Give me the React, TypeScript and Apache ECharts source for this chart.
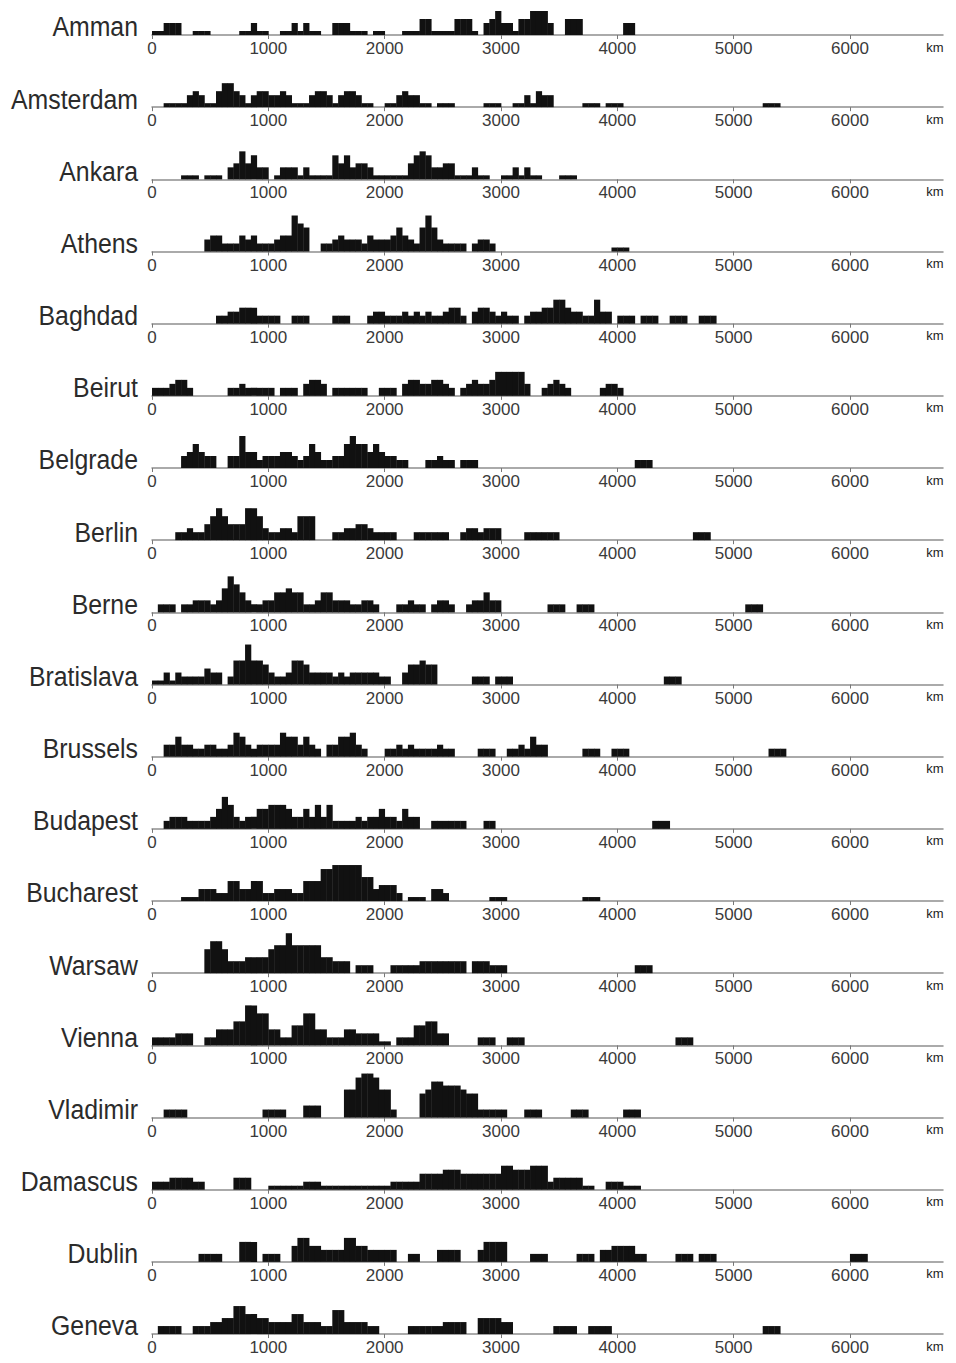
import React, { useEffect, useRef } from "react";
import * as echarts from "echarts";

const cities = [
  "Amman", "Amsterdam", "Ankara", "Athens", "Baghdad", "Beirut", "Belgrade", "Berlin", "Berne",
  "Bratislava", "Brussels", "Budapest", "Bucharest", "Warsaw", "Vienna", "Vladimir", "Damascus",
  "Dublin", "Geneva",
];

const BIN_KM = 50;
const xTicks = [0, 1000, 2000, 3000, 4000, 5000, 6000];

const amman = [1,1,3,3,3,0,0,1,1,1, 0,0,0,0,0,1,1,3,1,1, 0,0,1,1,3,1,3,1,1,0, 0,3,3,3,1,1,1,0,1,1, 0,0,0,1,1,1,4,4,1,1, 1,1,4,4,4,1,0,3,4,6, 3,3,1,4,4,6,6,6,3,0, 0,4,4,4,0,0,0,0,0,0, 0,3,3];
const amsterdam = [0,0,1,1,1,1,3,4,3,1, 1,4,6,6,4,3,1,3,4,4, 3,3,4,3,1,1,1,3,4,4, 3,1,3,4,4,3,1,1,0,0, 1,1,3,4,3,3,1,1,0,1, 1,1,0,0,0,0,0,1,1,1, 0,0,1,1,3,1,4,3,3,0, 0,0,0,0,1,1,1,0,1,1, 1,0,0,0,0,0,0,0,0,0, 0,0,0,0,0,0,0,0,0,0, 0,0,0,0,0,1,1,1];
const ankara = [0,0,0,0,0,1,1,1,0,1, 1,1,0,3,4,7,4,6,3,3, 0,1,3,3,3,1,3,1,1,1, 1,6,4,6,3,4,4,3,1,1, 1,1,1,1,4,6,7,6,3,3, 4,4,1,1,1,3,1,1,0,0, 1,1,3,1,3,1,1,0,0,0, 1,1,1];
const athens = [0,0,0,0,0,0,0,0,0,3, 4,4,2,2,2,4,3,4,2,2, 2,3,4,4,9,7,6,0,0,2, 2,3,4,3,3,3,2,4,3,3, 3,4,6,4,3,2,6,9,6,3, 2,2,2,2,0,2,3,3,2,0, 0,0,0,0,0,0,0,0,0,0, 0,0,0,0,0,0,0,0,0,1, 1,1];
const baghdad = [0,0,0,0,0,0,0,0,0,0, 0,2,2,3,3,4,4,4,2,2, 2,2,0,0,2,2,2,0,0,0, 0,2,2,2,0,0,0,2,3,3, 2,2,2,3,2,3,2,3,2,2, 3,4,4,2,0,3,4,4,3,2, 3,2,2,0,2,3,3,4,4,6, 6,4,3,3,2,2,6,3,3,0, 2,2,2,0,2,2,2,0,0,2, 2,2,0,0,2,2,2];
const beirut = [2,2,2,3,4,4,2,0,0,0, 0,0,0,2,2,3,2,2,2,2, 2,0,2,2,2,0,3,4,4,3, 0,2,2,2,2,2,2,0,0,2, 2,2,0,3,4,4,3,3,4,4, 3,2,0,2,3,4,3,3,4,6, 6,6,6,6,3,0,0,2,3,4, 3,2,0,0,0,0,0,2,3,3, 2];
const belgrade = [0,0,0,0,0,3,4,6,4,3, 3,0,0,3,3,8,4,4,2,3, 3,3,4,4,3,2,3,6,4,2, 2,3,3,6,8,6,6,4,6,4, 3,3,2,2,0,0,0,2,2,3, 2,2,0,2,2,2,0,0,0,0, 0,0,0,0,0,0,0,0,0,0, 0,0,0,0,0,0,0,0,0,0, 0,0,0,2,2,2];
const berlin = [0,0,0,0,2,2,3,2,2,4, 6,8,6,4,4,4,8,8,6,3, 2,2,3,3,2,6,6,6,0,0, 0,2,2,3,3,4,4,3,2,2, 2,2,0,0,0,2,2,2,2,2, 2,0,0,2,3,3,2,3,3,3, 0,0,0,0,2,2,2,2,2,2, 0,0,0,0,0,0,0,0,0,0, 0,0,0,0,0,0,0,0,0,0, 0,0,0,2,2,2];
const berne = [0,2,2,2,0,2,2,3,3,3, 2,3,6,9,7,5,3,2,2,3, 3,5,5,6,5,5,2,2,3,5, 5,3,3,3,2,2,3,3,2,0, 0,0,2,2,3,2,2,0,2,3, 3,2,0,0,2,3,3,5,3,3, 0,0,0,0,0,0,0,0,2,2, 2,0,0,2,2,2,0,0,0,0, 0,0,0,0,0,0,0,0,0,0, 0,0,0,0,0,0,0,0,0,0, 0,0,2,2,2];
const bratislava = [1,1,3,1,3,2,2,2,2,4, 3,3,0,2,6,6,10,6,6,5, 3,2,2,3,6,6,5,3,3,3, 3,2,3,2,3,3,3,3,3,2, 2,0,0,3,5,5,6,5,5,0, 0,0,0,0,0,2,2,2,0,2, 2,2,0,0,0,0,0,0,0,0, 0,0,0,0,0,0,0,0,0,0, 0,0,0,0,0,0,0,0,2,2, 2];
const brussels = [0,0,3,3,5,3,3,2,2,3, 3,2,2,3,6,5,3,2,3,3, 3,3,6,5,5,3,5,3,2,0, 3,3,5,5,6,3,2,0,0,0, 2,2,3,2,3,2,2,2,2,3, 2,2,0,0,0,0,2,2,2,0, 0,2,2,3,2,5,3,3,0,0, 0,0,0,0,2,2,2,0,0,2, 2,2,0,0,0,0,0,0,0,0, 0,0,0,0,0,0,0,0,0,0, 0,0,0,0,0,0,2,2,2];
const budapest = [0,0,2,3,3,3,2,2,2,2, 3,5,8,6,3,2,3,3,5,5, 6,6,6,5,3,3,5,3,6,3, 6,2,2,2,2,3,2,3,3,5, 3,3,2,5,3,3,0,0,2,2, 2,2,2,2,0,0,0,2,2,0, 0,0,0,0,0,0,0,0,0,0, 0,0,0,0,0,0,0,0,0,0, 0,0,0,0,0,0,2,2,2];
const bucharest = [0,0,0,0,0,1,1,1,3,3, 3,2,2,5,5,3,3,5,5,2, 2,3,3,3,2,2,5,5,5,8, 8,9,9,9,9,9,6,6,3,4, 4,4,2,0,1,1,1,0,3,3, 2,0,0,0,0,0,0,0,1,1, 1,0,0,0,0,0,0,0,0,0, 0,0,0,0,1,1,1];
const warsaw = [0,0,0,0,0,0,0,0,0,6, 8,8,6,3,3,3,4,4,4,4, 6,7,7,10,7,7,7,7,7,4, 4,3,3,3,0,2,2,2,0,0, 0,2,2,2,2,2,3,3,3,3, 3,3,3,3,0,3,3,3,2,2, 2,0,0,0,0,0,0,0,0,0, 0,0,0,0,0,0,0,0,0,0, 0,0,0,2,2,2];
const vienna = [2,2,2,2,3,3,3,0,0,2, 2,4,4,4,6,6,10,10,8,8, 4,4,2,2,5,5,8,8,4,4, 2,2,2,4,4,3,3,3,3,1, 1,0,2,2,2,5,5,6,6,3, 3,0,0,0,0,0,2,2,2,0, 0,2,2,2,0,0,0,0,0,0, 0,0,0,0,0,0,0,0,0,0, 0,0,0,0,0,0,0,0,0,0, 2,2,2];
const vladimir = [0,0,2,2,2,2,0,0,0,0, 0,0,0,0,0,0,0,0,0,2, 2,2,2,0,0,0,3,3,3,0, 0,0,0,7,7,10,11,11,10,7, 7,2,0,0,0,0,6,7,9,9, 8,8,8,7,6,6,2,2,2,2, 2,0,0,0,2,2,2,0,0,0, 0,0,2,2,2,0,0,0,0,0, 0,2,2,2];
const damascus = [2,2,2,3,3,3,3,2,2,0, 0,0,0,0,3,3,3,0,0,0, 1,1,1,1,1,1,2,2,2,1, 1,1,1,1,1,1,1,1,1,1, 1,2,2,2,2,2,4,4,4,4, 5,5,5,4,4,4,4,4,4,4, 6,6,5,5,5,6,6,6,2,3, 3,3,3,3,1,1,0,0,2,2, 2,1,1,1];
const dublin = [0,0,0,0,0,0,0,0,2,2, 2,2,0,0,0,5,5,5,0,2, 2,2,0,0,4,6,6,4,4,3, 3,3,3,6,6,4,4,3,3,3, 3,3,0,0,2,2,0,0,0,3, 3,3,3,0,0,0,3,5,5,5, 5,0,0,0,0,2,2,2,0,0, 0,0,0,2,2,2,0,3,3,4, 4,4,4,2,2,0,0,0,0,0, 2,2,2,0,2,2,2,0,0,0, 0,0,0,0,0,0,0,0,0,0, 0,0,0,0,0,0,0,0,0,0, 2,2,2];
const geneva = [0,2,2,2,2,0,0,2,2,2, 3,3,4,4,7,7,5,5,4,4, 3,3,3,3,5,5,3,3,3,2, 2,6,6,3,3,3,3,2,2,0, 0,0,0,0,2,2,2,2,2,2, 3,3,3,3,0,0,4,4,4,4, 3,3,0,0,0,0,0,0,0,2, 2,2,2,0,0,2,2,2,2,0, 0,0,0,0,0,0,0,0,0,0, 0,0,0,0,0,0,0,0,0,0, 0,0,0,0,0,2,2,2];

const histograms = [
  amman, amsterdam, ankara, athens, baghdad, beirut, belgrade, berlin, berne,
  bratislava, brussels, budapest, bucharest, warsaw, vienna, vladimir, damascus, dublin, geneva,
];

const W = 956;
const H = 1363;
const ROW0 = 35;
const ROW_STEP = 72.17;
const GRID_LEFT = 152;
const GRID_WIDTH = 791;
const GRID_H = 52;
const PX_PER_UNIT = 4;
const X_MAX = 6800;
const NUM_FONT = "'Liberation Sans', Arial, sans-serif";

export default function App() {
  const ref = useRef<HTMLDivElement>(null);

  useEffect(() => {
    if (!ref.current) return;
    const chart = echarts.init(ref.current, undefined, { renderer: "svg" });

    const grids: any[] = [];
    const xAxes: any[] = [];
    const yAxes: any[] = [];
    const series: any[] = [];
    const graphics: any[] = [];

    cities.forEach((city, i) => {
      const base = ROW0 + ROW_STEP * i;
      const top = Math.max(0, base - GRID_H);
      const height = base - top;
      grids.push({ left: GRID_LEFT, width: GRID_WIDTH, top, height });
      xAxes.push({
        type: "value",
        gridIndex: i,
        min: 0,
        max: X_MAX,
        interval: 1000,
        axisLine: { show: true, onZero: false, lineStyle: { color: "#8e8e8e", width: 1.5 } },
        axisTick: { show: true, customValues: xTicks, length: 4, lineStyle: { color: "#777", width: 1 } },
        axisLabel: {
          customValues: xTicks,
          formatter: (v: number) => String(v),
          fontSize: 17,
          fontFamily: NUM_FONT,
          color: "#3a3a3a",
          margin: 5,
        },
        splitLine: { show: false },
      });
      yAxes.push({ type: "value", gridIndex: i, min: 0, max: height / PX_PER_UNIT, show: false });
      const data = histograms[i]
        .map((h, k) => [k * BIN_KM, h])
        .filter((d) => d[1] > 0);
      series.push({
        type: "custom",
        xAxisIndex: i,
        yAxisIndex: i,
        data,
        z: 5,
        clip: false,
        renderItem: (_params: any, api: any) => {
          const x = api.value(0);
          const h = api.value(1);
          const a = api.coord([x, 0]);
          const b = api.coord([x + BIN_KM, h]);
          return {
            type: "rect",
            shape: { x: a[0], y: b[1], width: b[0] - a[0] + 0.4, height: a[1] - b[1] },
            style: { fill: "#111" },
          };
        },
      });
      graphics.push({
        type: "text",
        x: 138,
        y: base - 8,
        scaleX: 0.92,
        style: {
          text: city,
          font: "27px 'Liberation Sans', Arial, sans-serif",
          fill: "#2b2b2b",
          textAlign: "right",
          textVerticalAlign: "middle",
        },
      });
      graphics.push({
        type: "text",
        x: 935,
        y: base + 12,
        style: {
          text: "km",
          font: "13px 'Liberation Sans', Arial, sans-serif",
          fill: "#222222",
          textAlign: "center",
          textVerticalAlign: "middle",
        },
      });
    });

    chart.setOption({
      animation: false,
      backgroundColor: "#fff",
      grid: grids,
      xAxis: xAxes,
      yAxis: yAxes,
      series,
      graphic: graphics,
    });

    return () => chart.dispose();
  }, []);

  return (
    <div
      ref={ref}
      style={{ position: "absolute", left: 0, top: 0, width: W, height: H }}
    />
  );
}
